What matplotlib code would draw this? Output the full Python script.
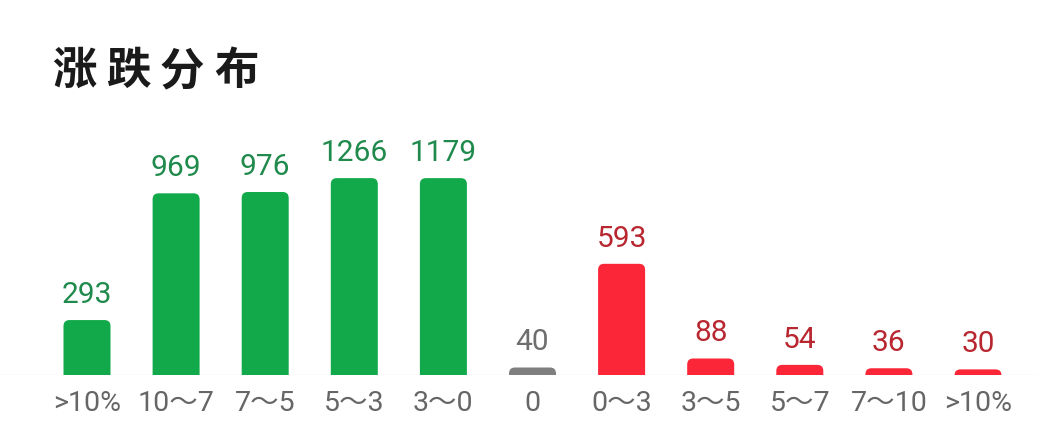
import numpy as np
import matplotlib
matplotlib.use("Agg")
import matplotlib.pyplot as plt
from matplotlib.patches import FancyBboxPatch

# 涨跌分布数据
categories = [">10%", "10～7", "7～5", "5～3", "3～0", "0",
              "0～3", "3～5", "5～7", "7～10", ">10%"]
counts = [293, 969, 976, 1266, 1179, 40, 593, 88, 54, 36, 30]
groups = ["down"] * 5 + ["flat"] + ["up"] * 5

bar_colors = {"down": "#12A94A", "flat": "#7F7F7F", "up": "#FB2638"}
text_colors = {"down": "#1F8A4C", "flat": "#6E6E6E", "up": "#B8262F"}

# 柱高上限（原图中超过约1050的柱子被截成同一高度）
cap = 1050

W, H = 1038, 446
fig = plt.figure(figsize=(W / 100, H / 100), dpi=100)
fig.patch.set_facecolor("white")

# 坐标映射：第一根柱中心 x=87px，最后一根 x=978px，底线 y=375px
step_px = (978 - 87) / (len(categories) - 1)
base_px = 375
px_per_unit = 0.1875
ax = fig.add_axes([0, (H - base_px) / H, 1, base_px / H])
ax.set_xlim(-87 / step_px, (W - 87) / step_px)
ax.set_ylim(0, base_px / px_per_unit)

x = np.arange(len(categories))
heights = np.minimum(counts, cap)
width = 47 / step_px

bars = ax.bar(x, heights, width=width, color="none", edgecolor="none")

# 圆角柱：只让顶部圆角露出来
rx = 6 / step_px
ry = 6 / px_per_unit
for rect, g in zip(bars, groups):
    x0, w, h = rect.get_x(), rect.get_width(), rect.get_height()
    p = FancyBboxPatch((x0, -2 * ry), w, h + 2 * ry,
                       boxstyle=f"round,pad=0,rounding_size={rx}",
                       mutation_aspect=ry / rx,
                       facecolor=bar_colors[g], edgecolor="none")
    ax.add_patch(p)

# 数值标签
for xi, h, v, g in zip(x, heights, counts, groups):
    ax.annotate(str(v), (xi, h), xytext=(0, 8), textcoords="offset points",
                ha="center", va="bottom", fontsize=21.5, family="Roboto",
                color=text_colors[g])

ax.axhline(0, color="#EFEFEF", lw=1, zorder=0)

ax.set_xticks(x)
ax.set_xticklabels(categories, family=["Roboto", "Noto Sans CJK SC"],
                   fontsize=20.5, color="#666666")
ax.tick_params(axis="x", length=0, pad=11)
ax.set_yticks([])
for s in ax.spines.values():
    s.set_visible(False)
ax.patch.set_alpha(0)

# 标题，逐字排开
title = "涨跌分布"
for i, ch in enumerate(title):
    fig.text((52 + i * 54) / W, 1 - 71 / H, ch, ha="left", va="center",
             fontsize=32, fontweight="bold", family="Noto Sans CJK SC",
             color="#1A1A1A")

fig.savefig("out.png", dpi=100, facecolor="white")
